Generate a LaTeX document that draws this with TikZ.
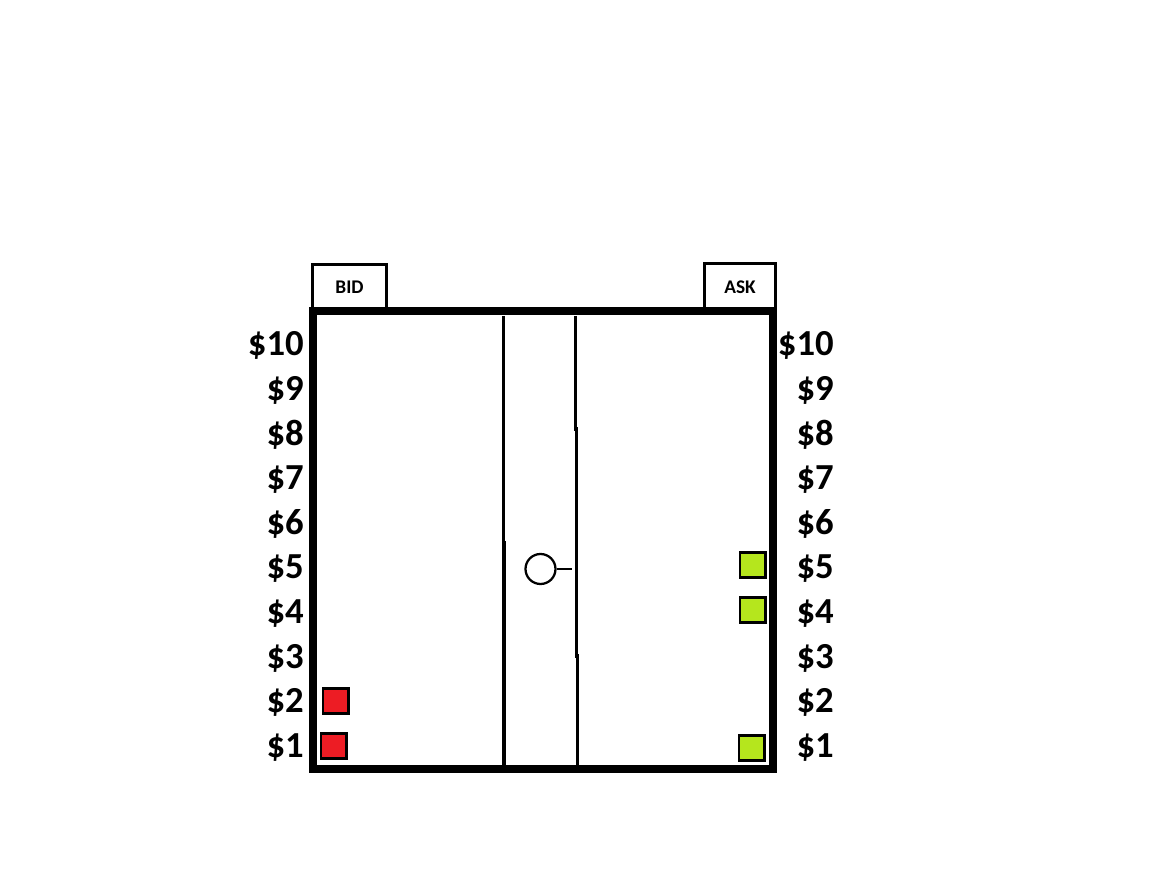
\documentclass[tikz,border=0pt]{standalone}
\usepackage{fontspec}
\setmainfont{Carlito}
\usepackage{tikz}
\usetikzlibrary{positioning}
\usepackage{color}
\definecolor{bidred}{HTML}{ED1C24}
\definecolor{asklime}{HTML}{B5E61D}

\begin{document}
\begin{tikzpicture}
    [
    x=0.75pt, y=-0.75pt,
    price/.style = {anchor=base east,inner sep=0pt,font=\bfseries\fontsize{27.5}{31}\selectfont},
    tab/.style = {draw,line width=2.25pt,inner sep=0pt,minimum height=34.5pt,font=\bfseries\fontsize{14.5}{17}\selectfont},
    order/.style = {draw,line width=2pt,inner sep=0pt,minimum size=19pt},
    rail/.style = {line width=2.3pt}
    ]
\useasboundingbox (0,0) rectangle (1154,880);

\node[tab,minimum width=55.5pt] (bid) at (349.5,287.5) {BID};
\node[tab,minimum width=53.25pt] (ask) at (740,287) {ASK};
\draw[line width=6pt] (313,311) rectangle (773,769);

\draw[rail] (503.3,316) -- (503.3,543) -- (504,543) -- (504,766);
\draw[rail] (575.3,316) -- (575.3,429) -- (576.3,429) -- (576.3,656) -- (577.3,656) -- (577.3,766);

\node[circle,draw,line width=1.7pt,minimum size=22.5pt,inner sep=0pt] (mid) at (540.5,569) {};
\coordinate (tick) at (572,569);
\draw[line width=1.7pt] (mid.east) -- (tick);

\node[price] (b10) at (304,356) {\$10};
\node[price] (b9) at (304,400.6) {\$9};
\node[price] (b8) at (304,445.2) {\$8};
\node[price] (b7) at (304,489.8) {\$7};
\node[price] (b6) at (304,534.4) {\$6};
\node[price] (b5) at (304,579) {\$5};
\node[price] (b4) at (304,623.6) {\$4};
\node[price] (b3) at (304,668.2) {\$3};
\node[price] (b2) at (304,712.8) {\$2};
\node[price] (b1) at (304,757.4) {\$1};

\node[price] (a10) at (834,356) {\$10};
\node[price] (a9) at (834,400.6) {\$9};
\node[price] (a8) at (834,445.2) {\$8};
\node[price] (a7) at (834,489.8) {\$7};
\node[price] (a6) at (834,534.4) {\$6};
\node[price] (a5) at (834,579) {\$5};
\node[price] (a4) at (834,623.6) {\$4};
\node[price] (a3) at (834,668.2) {\$3};
\node[price] (a2) at (834,712.8) {\$2};
\node[price] (a1) at (834,757.4) {\$1};

\node[order,fill=bidred] (bid2) at (335.5,701) {};
\node[order,fill=bidred] (bid1) at (333.5,746) {};
\node[order,fill=asklime] (ask5) at (752.5,565) {};
\node[order,fill=asklime] (ask4) at (752.5,610) {};
\node[order,fill=asklime] (ask1) at (751.5,748) {};
\end{tikzpicture}
\end{document}
